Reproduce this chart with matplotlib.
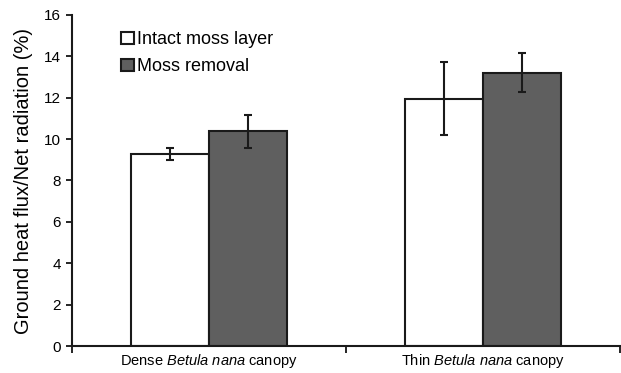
import matplotlib
matplotlib.use("Agg")
import matplotlib.pyplot as plt
import numpy as np

plt.rcParams['font.family'] = ['Liberation Sans', 'DejaVu Sans']
plt.rcParams['mathtext.fontset'] = 'custom'
plt.rcParams['mathtext.rm'] = 'Liberation Sans'
plt.rcParams['mathtext.it'] = 'Liberation Sans:italic'

# data
categories = ['Dense $\\it{Betula\\ nana}$ canopy', 'Thin $\\it{Betula\\ nana}$ canopy']
series_names = ['Intact moss layer', 'Moss removal']
intact = [9.27, 11.96]
intact_err = [0.29, 1.77]
removal = [10.37, 13.22]
removal_err = [0.82, 0.92]

fig = plt.figure(figsize=(6.21, 3.73), dpi=100)
ax = fig.add_axes([72/621, 27/373, 548/621, 331/373])

x = np.arange(len(categories))
width = 0.284  # width of each bar

ax.bar(x - width/2, intact, width, color='white', edgecolor='#1a1a1a', linewidth=1.5,
       label=series_names[0], zorder=2)
ax.bar(x + width/2, removal, width, color='#5f5f5f', edgecolor='#1a1a1a', linewidth=1.5,
       label=series_names[1], zorder=2)
ax.errorbar(x - width/2, intact, yerr=intact_err, fmt='none', ecolor='#1a1a1a',
            elinewidth=1.5, capsize=3, capthick=1.5, zorder=3)
ax.errorbar(x + width/2, removal, yerr=removal_err, fmt='none', ecolor='#1a1a1a',
            elinewidth=1.5, capsize=3, capthick=1.5, zorder=3)

ax.set_xlim(-0.5, 1.5)
ax.set_ylim(0, 16)
ax.set_yticks(np.arange(0, 17, 2))
ax.tick_params(axis='y', labelsize=11, length=4, width=1.2, direction='out', pad=4)

# category labels between the separator ticks, like the original
ax.set_xticks([-0.5, 0.5, 1.5])
ax.set_xticklabels(['', '', ''])
ax.set_xticks(x, minor=True)
ax.set_xticklabels(categories, minor=True, fontsize=10.5)
ax.tick_params(axis='x', which='major', length=5, width=1.2, direction='out')
ax.tick_params(axis='x', which='minor', length=0, pad=4)

for side in ['top', 'right']:
    ax.spines[side].set_visible(False)
for side in ['left', 'bottom']:
    ax.spines[side].set_linewidth(1.5)
    ax.spines[side].set_color('#1a1a1a')

ax.set_ylabel('Ground heat flux/Net radiation (%)', fontsize=14.5, labelpad=8)

ax.legend(loc='upper left', bbox_to_anchor=(0.06, 1.0), frameon=False, fontsize=13,
          handlelength=0.7, handleheight=0.7, handletextpad=0.2, labelspacing=0.55)

fig.savefig('out.png', dpi=100)
